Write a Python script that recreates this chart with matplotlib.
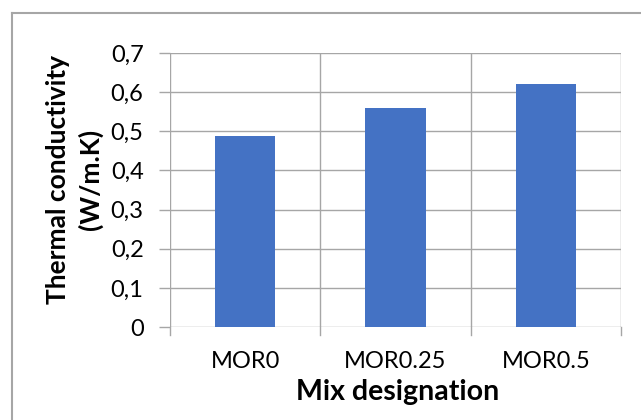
import matplotlib
matplotlib.use("Agg")
import matplotlib.pyplot as plt
from matplotlib.lines import Line2D

categories = ["MOR0", "MOR0.25", "MOR0.5"]
values = [0.488, 0.560, 0.620]
yticks = [0, 0.1, 0.2, 0.3, 0.4, 0.5, 0.6, 0.7]
ytick_labels = ["0", "0,1", "0,2", "0,3", "0,4", "0,5", "0,6", "0,7"]

plt.rcParams['font.family'] = ['Lato', 'DejaVu Sans']

W, H = 641, 420
fig = plt.figure(figsize=(W/100, H/100), dpi=100)
fig.patch.set_facecolor("white")

def fx(px):
    return px / W

def fy(py):
    return 1 - py / H

# outer chart border (cropped at right and bottom)
bx, by = 11.5, 13
fig.add_artist(Line2D([fx(bx), fx(bx)], [0, fy(by)], transform=fig.transFigure,
                      color="#A6A6A6", lw=1.5))
fig.add_artist(Line2D([fx(bx), 1], [fy(by), fy(by)], transform=fig.transFigure,
                      color="#A6A6A6", lw=1.5))

left, right, top, bottom = 170, 621, 53, 327
ax = fig.add_axes([fx(left), fy(bottom), (right-left)/W, (bottom-top)/H])

grid_c = "#A6A6A6"
x = list(range(len(categories)))
ax.bar(x, values, width=0.4, color="#4472C4", zorder=3)
ax.set_xlim(-0.5, len(categories)-0.5)
ax.set_ylim(0, 0.7)
ax.set_yticks(yticks)
ax.set_yticklabels(ytick_labels, fontsize=17)
ax.set_xticks(x)
ax.set_xticklabels(categories, fontsize=17)
ax.tick_params(axis='x', length=0, pad=17)
ax.tick_params(axis='y', length=8, color=grid_c, width=1, pad=11)

# vertical gridlines at category boundaries (with ticks extending below)
for b in [-0.5, 0.5, 1.5, 2.5]:
    ax.axvline(b, color=grid_c, lw=1, zorder=1)
    ax.plot([b, b], [0, -8/391.4], color=grid_c, lw=1, clip_on=False, zorder=1)
ax.yaxis.grid(True, color=grid_c, lw=1, zorder=1)
ax.set_axisbelow(True)
for s in ax.spines.values():
    s.set_visible(False)

# axis titles
fig.text(fx(398), fy(400), "Mix designation", fontsize=20.5, fontweight="bold",
         ha="center", va="baseline")
fig.text(fx(58), fy(179), "Thermal conductivity", fontsize=19, fontweight="bold",
         rotation=90, ha="center", va="center")
fig.text(fx(90), fy(179), "(W/m.K)", fontsize=19, fontweight="bold",
         rotation=90, ha="center", va="center")

fig.savefig("out.png", dpi=100, facecolor="white")
